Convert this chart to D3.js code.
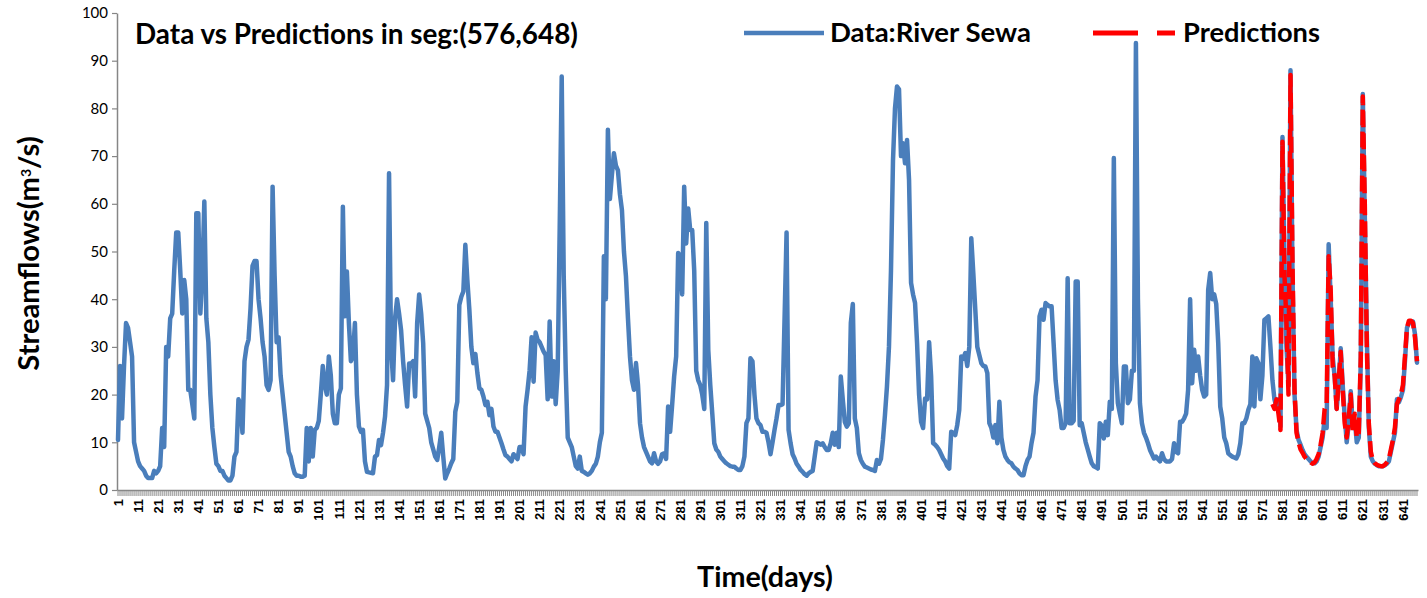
<!DOCTYPE html>
<html>
<head>
<meta charset="utf-8">
<script src="https://cdn.jsdelivr.net/npm/d3@7/dist/d3.min.js"></script>
<style>
  html, body { margin: 0; padding: 0; background: #ffffff; }
  svg { display: block; }
  text { font-family: Lato, "Open Sans", "Liberation Sans", sans-serif; }
</style>
</head>
<body>
<svg id="chart" width="1427" height="598"></svg>
<script>
// Daily streamflow of the River Sewa (m3/s), day 1 .. day 648
const flows = [
  10.5, 26, 15, 26, 35, 34, 31, 28, 10, 8,
  6, 5, 4.5, 4, 3, 2.5, 2.5, 2.5, 4, 3.5,
  4, 5, 13, 9, 30, 28, 36, 37, 46, 54,
  54, 46, 37, 44, 40, 21, 21, 18, 15, 58,
  58, 37, 45, 60.5, 36, 31, 20, 13, 9, 5.5,
  5, 4, 4, 3, 2.5, 2, 2, 3, 7, 8,
  19, 18, 12, 27, 30, 31.5, 38, 47, 48, 48,
  40, 36, 31, 28, 22, 21, 23, 63.6, 45, 31,
  32, 24, 20, 16, 12, 8, 7, 5, 3.5, 3,
  3, 2.8, 2.8, 3, 13, 6, 13, 7, 12.6, 13,
  14.5, 20, 26, 22, 20, 28, 24, 16, 14, 14,
  20, 21.3, 59.4, 36.4, 45.8, 35, 27, 28, 35, 20,
  13.3, 12.2, 12.6, 6, 3.8, 3.7, 3.6, 3.5, 7, 7.3,
  10.5, 9.4, 12, 15.4, 22, 66.4, 30, 23, 36, 40,
  37, 33.5, 27, 22, 17.5, 26.5, 26.5, 27, 19.6, 35,
  41, 37, 30.8, 16, 14.5, 13, 10, 8.5, 7, 6.3,
  9, 12, 7, 2.4, 3.5, 4.5, 5.6, 6.5, 16.4, 18.5,
  38.8, 40.5, 41.6, 51.4, 44, 37.8, 30, 26.6, 28.5, 24.5,
  21.3, 21, 19.6, 17.8, 18.5, 15.7, 17, 13.3, 12.2, 12.2,
  11, 9.8, 8.5, 7.3, 7, 6.5, 6, 7.5, 7, 6.5,
  9, 9, 7.5, 17.5, 21, 25, 32, 22.7, 33, 31.5,
  31, 30, 29, 28.3, 19, 35.3, 19.6, 27, 18, 25,
  55, 86.7, 45, 25, 11, 10, 9, 7, 5, 4.5,
  7, 4, 3.8, 3.5, 3.2, 3.5, 4, 4.9, 5.5, 7,
  10, 12, 49, 40, 75.5, 61, 66, 70.6, 68, 67,
  62, 58.7, 50, 44.8, 36, 28, 23, 21, 26.6, 22,
  14, 11, 9, 8, 7, 6, 5.6, 7.7, 6, 5.5,
  6, 7.5, 7.7, 6.5, 17.5, 12.2, 17.8, 23.8, 28, 49.7,
  49, 41, 63.6, 51.7, 59, 54.5, 54.5, 46, 25, 23,
  22, 20, 17, 56, 29.4, 22, 16, 9.8, 8.5, 8,
  7, 6.5, 6, 5.6, 5.3, 5, 4.9, 4.9, 4.5, 4.2,
  4.2, 5, 7, 14, 15, 27.6, 27, 20, 15, 14,
  13.6, 12.2, 12.2, 12, 10, 7.5, 10, 12.6, 15, 17.8,
  17.8, 18, 36, 54, 12.6, 9.8, 7.5, 6.6, 5.5, 4.9,
  4.2, 3.8, 3.3, 3, 3.5, 3.8, 4, 7, 10, 9.8,
  9.5, 9.8, 9, 8.4, 8.4, 9.8, 12, 9.5, 12, 9,
  23.8, 19, 14.3, 13.3, 14, 35, 39, 15, 13, 7.7,
  6.3, 5.5, 4.9, 4.7, 4.5, 4.3, 4.2, 4, 6.3, 5.5,
  6.5, 10.5, 15.7, 21.7, 30, 46, 69, 80, 84.6, 84,
  70, 72.7, 68.5, 73.4, 65, 43.4, 41, 39.2, 30.8, 20,
  14.3, 13, 19.2, 19, 31, 23.8, 9.8, 9.5, 9, 8.4,
  7.5, 6.6, 6, 5, 4.5, 12.2, 12, 11.5, 13.6, 16.8,
  28, 27.5, 28.7, 26, 30, 52.8, 45.5, 37.8, 30, 28.3,
  26.6, 26, 25.9, 24.5, 14, 13, 11, 13.6, 9.8, 18.5,
  11, 8.4, 7, 6.3, 5.8, 5.6, 4.9, 4.5, 4.2, 3.5,
  3.1, 3.1, 5, 6.3, 7, 9.8, 12, 19.6, 23, 36.4,
  37.8, 35.7, 39.2, 38.8, 38.5, 38.5, 30.8, 23, 18.9, 16.8,
  13, 13, 14, 44.4, 14, 14, 14.5, 43.7, 43.7, 13.6,
  14, 12, 10, 8.5, 7, 5.6, 5, 4.8, 4.5, 14,
  13.5, 10.8, 14.3, 11.5, 18.5, 17, 69.6, 26.6, 18.2, 16,
  14, 25.9, 25.9, 18.2, 19, 25, 25, 93.7, 40, 18.2,
  14, 12, 11, 9.8, 8.4, 7.5, 6.6, 7, 6.5, 6,
  7.7, 6.5, 6, 6, 6, 6.5, 9.8, 8, 7.7, 14.3,
  14.3, 15, 16, 21, 40, 22.4, 29.4, 25, 28, 24,
  21, 19.6, 20, 42, 45.5, 40, 41, 39, 30.8, 17.5,
  15, 11, 9.8, 7.7, 7.3, 7, 6.8, 6.6, 7.5, 9.8,
  14, 14, 15, 16.8, 18, 28, 17.5, 27.6, 26.6, 19,
  24, 35.7, 36, 36.4, 30, 23, 19, 17.5, 19, 13.3,
  74, 48, 30, 22, 88, 44.8, 20, 12.6, 10.5, 9.5,
  8.4, 7.5, 7, 6.5, 6, 5.6, 5.6, 6, 7, 9,
  11, 15, 13, 51.5, 40, 28, 23.7, 17, 22, 29.7,
  22, 15.4, 10, 14, 20.7, 13, 14.7, 10, 11, 26.7,
  83, 57.5, 32.7, 13.2, 7, 6, 5.5, 5.2, 5, 5,
  5, 5.2, 5.5, 6, 8, 10, 12, 19, 18.4, 19.5,
  21, 27, 34, 35, 35, 35.3, 32.7, 26.7
];

// Model output for the segment (576, 648)
const predStartDay = 576;
const predictions = [
  18, 17, 19, 16, 12.6,
  73, 45, 35, 20, 87, 47, 21, 12, 10, 8.5,
  7.8, 7, 6.5, 6.2, 5.8, 5.5, 5.8, 6.5, 7.5, 9.5,
  12, 17, 18, 49, 42, 26, 24, 17, 23, 29,
  21, 14, 11, 15, 20, 12, 16, 11, 12, 28,
  82.5, 60, 30, 14, 8, 6.2, 5.6, 5.3, 5.1, 5,
  5, 5.3, 5.8, 6.5, 8.5, 10.5, 13, 18, 19, 20,
  22, 28, 34, 35.5, 35.5, 35, 32, 27
];

const yTicks = [0, 10, 20, 30, 40, 50, 60, 70, 80, 90, 100];
const xTickLabels = ["1","11","21","31","41","51","61","71","81","91",
  "101","111","121","131","141","151","161","171","181","191",
  "201","211","221","231","241","251","261","271","281","291",
  "301","311","321","331","341","351","361","371","381","391",
  "401","411","421","431","441","451","461","471","481","491",
  "501","511","521","531","541","551","561","571","581","591",
  "601","611","621","631","641"];
const titleText = "Data vs Predictions in seg:(576,648)";
const seriesNames = ["Data:River Sewa", "Predictions"];
const xTitle = "Time(days)";

const days = d3.range(1, flows.length + 1);
const dataPts = flows.map((v, i) => ({ day: days[i], v }));
const predPts = predictions.map((v, i) => ({ day: predStartDay + i, v }));

const BLUE = "#4a7ebb", RED = "#ff0000", AXIS = "#868686";
const plot = { left: 117, right: 1418, top: 13, bottom: 490 };

const svg = d3.select("#chart");

const x = d3.scaleBand().domain(days).range([plot.left, plot.right]).padding(0);
const xMid = d => x(d) + x.bandwidth() / 2;
const y = d3.scaleLinear().domain([0, 100]).range([plot.bottom, plot.top]);

// scale a text's font so that its drawn length matches a target length
function fitLength(sel, target) {
  const len = sel.node().getComputedTextLength();
  const fs = parseFloat(sel.style("font-size"));
  sel.style("font-size", (fs * target / len).toFixed(2) + "px");
}

// category axis: a tick for every day, a label for every tenth
const labelSet = new Set(xTickLabels);
const gx = svg.append("g")
  .attr("transform", `translate(0,${plot.bottom})`)
  .call(d3.axisBottom(x).tickValues(days).tickSize(6).tickSizeOuter(0)
    .tickFormat(d => labelSet.has(String(d)) ? String(d) : ""));
gx.select(".domain").attr("stroke", AXIS).attr("stroke-width", 1.5);
gx.selectAll(".tick line").attr("stroke", "#8a8a8a").attr("stroke-width", 1);
gx.selectAll(".tick text")
  .attr("transform", "rotate(-90)")
  .attr("x", -9).attr("y", 0).attr("dy", "0.36em")
  .style("text-anchor", "end")
  .style("font-family", "'Liberation Sans', Arial, sans-serif")
  .style("font-size", "13px").style("font-weight", "700")
  .attr("fill", "#000");

// value axis
const gy = svg.append("g")
  .attr("transform", `translate(${plot.left},0)`)
  .call(d3.axisLeft(y).tickValues(yTicks).tickSize(5).tickPadding(4).tickSizeOuter(0));
gy.select(".domain").attr("stroke", AXIS).attr("stroke-width", 1.5);
gy.selectAll(".tick line").attr("stroke", AXIS).attr("stroke-width", 1.2);
gy.selectAll(".tick text").style("font-size", "15px").attr("fill", "#000");

// series
const line = d3.line().x(d => xMid(d.day)).y(d => y(d.v));
svg.append("path").datum(dataPts)
  .attr("d", line).attr("fill", "none")
  .attr("stroke", BLUE).attr("stroke-width", 4.5)
  .attr("stroke-linejoin", "round").attr("stroke-linecap", "round");
svg.append("path").datum(predPts)
  .attr("d", line).attr("fill", "none")
  .attr("stroke", RED).attr("stroke-width", 4.5)
  .attr("stroke-dasharray", "16,6")
  .attr("stroke-linejoin", "round");

// title
const title = svg.append("text").attr("x", 135).attr("y", 44)
  .style("font-size", "22px").style("font-weight", "700").attr("fill", "#000")
  .text(titleText);
fitLength(title, 443);

// legend
svg.append("line").attr("x1", 744).attr("x2", 824).attr("y1", 33).attr("y2", 33)
  .attr("stroke", BLUE).attr("stroke-width", 4.5);
const lg1 = svg.append("text").attr("x", 830).attr("y", 41.5)
  .style("font-size", "22px").style("font-weight", "700").attr("fill", "#000")
  .text(seriesNames[0]);
fitLength(lg1, 201);
svg.append("line").attr("x1", 1093).attr("x2", 1175).attr("y1", 33).attr("y2", 33)
  .attr("stroke", RED).attr("stroke-width", 5).attr("stroke-dasharray", "45,19");
const lg2 = svg.append("text").attr("x", 1183).attr("y", 41.5)
  .style("font-size", "22px").style("font-weight", "700").attr("fill", "#000")
  .text(seriesNames[1]);
fitLength(lg2, 137);

// axis titles
const yt = svg.append("text")
  .attr("transform", `translate(39,${(plot.top + plot.bottom) / 2 + 2}) rotate(-90)`)
  .style("text-anchor", "middle").style("font-size", "22px").style("font-weight", "700")
  .attr("fill", "#000");
yt.append("tspan").text("Streamflows(m");
yt.append("tspan").attr("dy", -8).style("font-size", "14px").text("3");
yt.append("tspan").attr("dy", 8).text("/s)");
fitLength(yt, 237);

const xt = svg.append("text").attr("x", 765).attr("y", 587)
  .style("text-anchor", "middle").style("font-size", "22px").style("font-weight", "700")
  .attr("fill", "#000").text(xTitle);
fitLength(xt, 136);
</script>
</body>
</html>
